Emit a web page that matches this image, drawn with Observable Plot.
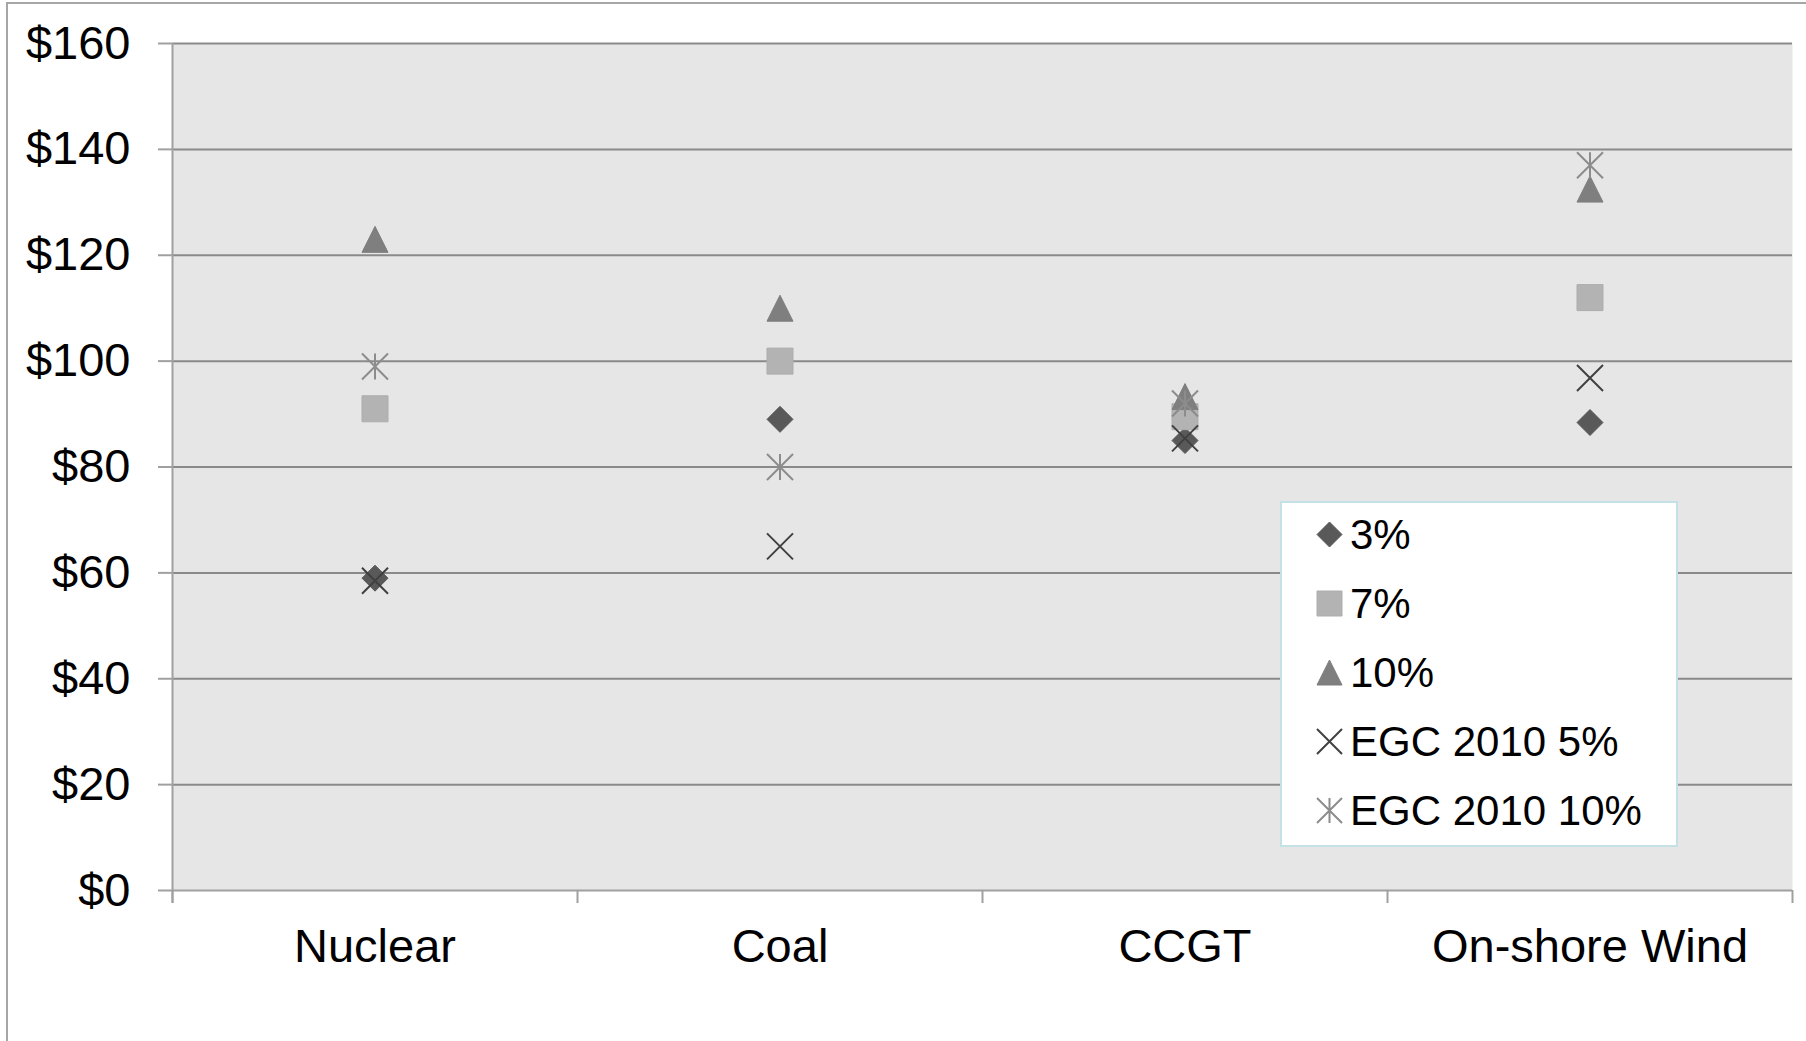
<!DOCTYPE html>
<html><head><meta charset="utf-8">
<script src="https://cdn.jsdelivr.net/npm/d3@7"></script>
<script src="https://cdn.jsdelivr.net/npm/@observablehq/plot@0.6"></script>
<style>
body{margin:0;background:#fff;font-family:"Liberation Sans",Arial,sans-serif;}
#wrap{position:relative;width:1806px;height:1041px;overflow:hidden;background:#fff;}
#wrap > svg{position:absolute;left:0;top:0;}
#border{position:absolute;left:6px;top:2px;width:1900px;height:1100px;border:2px solid #a6a6a6;box-sizing:border-box;pointer-events:none;}
#legend{position:absolute;left:1280px;top:501px;width:398px;height:346px;box-sizing:border-box;border:2px solid #c4e2e6;background:#fff;padding-top:0px;}
.row{height:69px;display:flex;align-items:center;}
.row:first-child{margin-top:-3px;}
.row svg{margin-left:34px;margin-right:7px;display:block;}
.row span{font-size:42px;color:#000;line-height:1;}
</style>
</head><body>
<div id="wrap"></div>
<script>
// ---- data ----
const categories = ["Nuclear", "Coal", "CCGT", "On-shore Wind"];
const seriesNames = ["3%", "7%", "10%", "EGC 2010 5%", "EGC 2010 10%"];
const s3 = [59, 89, 85, 88.4];
const s7 = [91, 100, 89.5, 112];
const s10 = [123, 110, 93.3, 132.5];
const egc5 = [58.5, 65, 85.4, 96.8];
const egc10 = [99, 80, 92, 137];
const yTicks = [0, 20, 40, 60, 80, 100, 120, 140, 160];

// ---- Excel-like marker shapes ----
const half = (size) => Math.sqrt(size / Math.PI);
const symDiamond = {draw(c, s){const h=half(s); c.moveTo(0,-h); c.lineTo(h,0); c.lineTo(0,h); c.lineTo(-h,0); c.closePath();}};
const symSquare = {draw(c, s){const h=half(s); c.moveTo(-h,-h); c.lineTo(h,-h); c.lineTo(h,h); c.lineTo(-h,h); c.closePath();}};
const symTriangle = {draw(c, s){const h=half(s); c.moveTo(0,-h); c.lineTo(h,h); c.lineTo(-h,h); c.closePath();}};
const symTimes = {draw(c, s){const h=half(s); c.moveTo(-h,-h); c.lineTo(h,h); c.moveTo(-h,h); c.lineTo(h,-h);}};
const symStar = {draw(c, s){const h=half(s); c.moveTo(-h,-h); c.lineTo(h,h); c.moveTo(-h,h); c.lineTo(h,-h); c.moveTo(0,-h); c.lineTo(0,h);}};

const seriesValues = [s3, s7, s10, egc5, egc10];
const seriesStyle = [
  {symbol: symDiamond, fill: "#595959", stroke: "#595959", strokeWidth: 1},
  {symbol: symSquare, fill: "#b3b3b3", stroke: "#adadad", strokeWidth: 1},
  {symbol: symTriangle, fill: "#7f7f7f", stroke: "#7f7f7f", strokeWidth: 1},
  {symbol: symTimes, fill: "none", stroke: "#404040", strokeWidth: 2},
  {symbol: symStar, fill: "none", stroke: "#8c8c8c", strokeWidth: 2}
];

const xPos = (cat) => categories.indexOf(cat) + 0.5;

const dotMarks = seriesValues.map((vals, k) =>
  Plot.dot(vals.map((v, i) => ({cat: categories[i], v})), {
    x: d => xPos(d.cat), y: "v", r: 13,
    symbol: seriesStyle[k].symbol, fill: seriesStyle[k].fill,
    stroke: seriesStyle[k].stroke, strokeWidth: seriesStyle[k].strokeWidth
  })
);

const chart = Plot.plot({
  width: 1806, height: 1041,
  marginLeft: 172, marginRight: 14, marginTop: 43, marginBottom: 151,
  style: {fontFamily: "'Liberation Sans', Arial, sans-serif", background: "transparent", color: "#000"},
  x: {type: "linear", domain: [0, categories.length]},
  y: {domain: [0, 160]},
  marks: [
    Plot.frame({fill: "#e6e6e6", stroke: null}),
    Plot.gridY(yTicks.filter(d => d > 0), {stroke: "#8a8a8a", strokeOpacity: 1, strokeWidth: 2}),
    Plot.ruleY([0], {stroke: "#a0a0a0", strokeWidth: 2}),
    Plot.ruleX([0], {stroke: "#a0a0a0", strokeWidth: 2, insetBottom: -13}),
    Plot.axisY(yTicks, {tickSize: 14, tickPadding: 28, tickFormat: d => "$" + d, fontSize: 47, stroke: "#a0a0a0", strokeWidth: 2, fill: "#000", label: null}),
    Plot.axisX(d3.range(0, categories.length + 1), {tickSize: 13, tickFormat: () => "", stroke: "#a0a0a0", strokeWidth: 2, label: null}),
    Plot.axisX(categories.map(xPos), {tickSize: 0, tickPadding: 38, tickFormat: d => categories[Math.floor(d)], fontSize: 47, fill: "#000", label: null}),
    ...dotMarks
  ]
});

const wrap = document.getElementById("wrap");
wrap.appendChild(chart);
const border = document.createElement("div");
border.id = "border";
wrap.appendChild(border);

// ---- legend ----
const legend = document.createElement("div");
legend.id = "legend";
seriesNames.forEach((name, k) => {
  const row = document.createElement("div");
  row.className = "row";
  const st = seriesStyle[k];
  const p = d3.path();
  st.symbol.draw(p, Math.PI * 12.5 * 12.5);
  const svg = d3.create("svg").attr("width", 27).attr("height", 27).attr("viewBox", "-13.5 -13.5 27 27");
  svg.append("path").attr("d", p.toString()).attr("fill", st.fill).attr("stroke", st.stroke).attr("stroke-width", st.strokeWidth);
  row.appendChild(svg.node());
  const span = document.createElement("span");
  span.textContent = name;
  row.appendChild(span);
  legend.appendChild(row);
});
wrap.appendChild(legend);
</script>
</body></html>
